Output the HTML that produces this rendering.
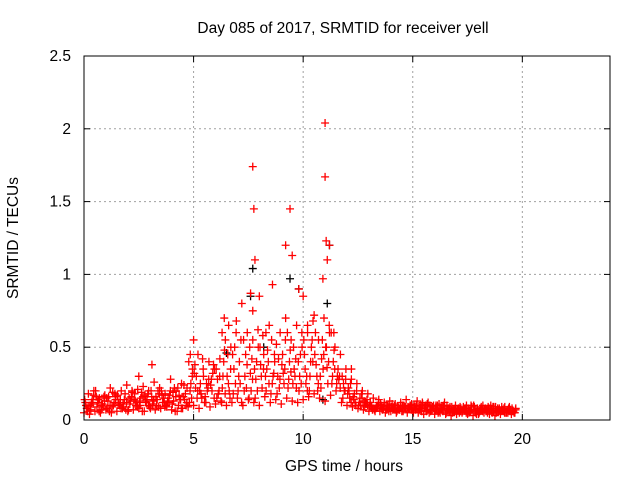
<!DOCTYPE html>
<html><head><meta charset="utf-8"><style>
html,body{margin:0;padding:0;background:#fff;}
svg text{font-family:"Liberation Sans",sans-serif;font-size:15.5px;fill:#000;}
</style></head><body>
<svg id="chart" width="640" height="480">
<rect width="640" height="480" fill="#fff"/>
<text x="343" y="33" text-anchor="middle">Day 085 of 2017, SRMTID for receiver yell</text>
<text x="18" y="238" text-anchor="middle" transform="rotate(-90 18 238)">SRMTID / TECUs</text>
<text x="344" y="471" text-anchor="middle">GPS time / hours</text>
<g id="grid"></g>
<g id="marks"></g>
<rect x="84" y="56" width="526" height="364" fill="none" stroke="#000"/>
<g id="axes"></g>
</svg>
<script>
const xTicks=[0,5,10,15,20];
const yTicks=[0,0.5,1,1.5,2,2.5];
const yTickLabels=["0","0.5","1","1.5","2","2.5"];
const times=[0,0.25,0.5,0.75,1,1.25,1.5,1.75,2,2.25,2.5,2.75,3,3.25,3.5,3.75,4,4.25,4.5,4.75,5,5.25,5.5,5.75,6,6.25,6.5,6.75,7,7.25,7.5,7.75,8,8.25,8.5,8.75,9,9.25,9.5,9.75,10,10.25,10.5,10.75,11,11.25,11.5,11.75,12,12.25,12.5,12.75,13,13.25,13.5,13.75,14,14.25,14.5,14.75,15,15.25,15.5,15.75,16,16.25,16.5,16.75,17,17.25,17.5,17.75,18,18.25,18.5,18.75,19,19.25,19.5];
const lowVals=[0.05,0.04,0.06,0.05,0.07,0.05,0.06,0.08,0.06,0.07,0.08,0.06,0.09,0.07,0.08,0.1,0.07,0.06,0.08,0.09,0.1,0.08,0.12,0.09,0.11,0.13,0.1,0.12,0.15,0.1,0.14,0.12,0.1,0.16,0.12,0.14,0.11,0.15,0.13,0.12,0.14,0.16,0.18,0.15,0.13,0.17,0.2,0.12,0.1,0.09,0.08,0.07,0.06,0.07,0.06,0.05,0.06,0.05,0.06,0.05,0.06,0.05,0.04,0.05,0.04,0.05,0.04,0.03,0.04,0.05,0.04,0.03,0.04,0.05,0.04,0.03,0.04,0.05,0.04];
const midVals=[0.1,0.12,0.09,0.11,0.13,0.1,0.12,0.14,0.11,0.13,0.15,0.12,0.16,0.14,0.12,0.15,0.13,0.17,0.14,0.2,0.22,0.18,0.25,0.2,0.28,0.3,0.25,0.35,0.4,0.3,0.32,0.28,0.3,0.35,0.25,0.3,0.32,0.28,0.35,0.3,0.35,0.4,0.38,0.42,0.36,0.3,0.35,0.25,0.2,0.18,0.15,0.12,0.1,0.09,0.08,0.09,0.07,0.08,0.1,0.08,0.09,0.08,0.1,0.07,0.08,0.09,0.07,0.06,0.08,0.07,0.06,0.07,0.08,0.06,0.07,0.06,0.07,0.05,0.06];
const highVals=[0.18,0.2,0.15,0.17,0.22,0.16,0.2,0.24,0.19,0.21,0.23,0.2,0.26,0.22,0.18,0.28,0.2,0.25,0.22,0.35,0.45,0.3,0.4,0.35,0.42,0.55,0.5,0.68,0.8,0.6,0.55,0.5,0.45,0.65,0.4,0.6,0.7,0.55,0.65,0.5,0.6,0.68,0.55,0.7,0.6,0.5,0.45,0.35,0.28,0.25,0.2,0.18,0.15,0.14,0.12,0.13,0.11,0.12,0.14,0.11,0.13,0.11,0.12,0.1,0.11,0.12,0.09,0.1,0.08,0.1,0.09,0.08,0.1,0.08,0.09,0.08,0.09,0.07,0.08];
const mid2Vals=[0.08,0.14,0.12,0.09,0.16,0.12,0.1,0.18,0.13,0.1,0.19,0.14,0.11,0.2,0.15,0.12,0.22,0.14,0.18,0.25,0.3,0.15,0.2,0.32,0.18,0.4,0.2,0.5,0.25,0.45,0.2,0.4,0.22,0.48,0.3,0.42,0.25,0.4,0.3,0.45,0.25,0.5,0.3,0.55,0.25,0.4,0.28,0.2,0.15,0.12,0.1,0.11,0.09,0.1,0.07,0.1,0.08,0.07,0.09,0.1,0.07,0.1,0.06,0.09,0.1,0.06,0.08,0.07,0.05,0.08,0.06,0.05,0.09,0.07,0.05,0.08,0.06,0.08,0.05];
const e1Vals=[0.12,0.07,0.16,0.1,0.08,0.19,0.11,0.09,0.15,0.18,0.1,0.13,0.2,0.1,0.17,0.13,0.19,0.1,0.24,0.12,0.38,0.25,0.12,0.28,0.15,0.22,0.45,0.18,0.3,0.2,0.5,0.15,0.38,0.2,0.55,0.18,0.45,0.22,0.5,0.2,0.45,0.3,0.6,0.22,0.5,0.25,0.3,0.15,0.22,0.14,0.12,0.09,0.12,0.08,0.1,0.07,0.11,0.09,0.06,0.08,0.1,0.07,0.09,0.06,0.1,0.07,0.1,0.05,0.07,0.09,0.05,0.09,0.06,0.08,0.1,0.05,0.09,0.07,0.06];
const e2Vals=[0.09,0.17,0.06,0.13,0.1,0.14,0.08,0.12,0.2,0.09,0.16,0.1,0.14,0.18,0.09,0.2,0.16,0.08,0.12,0.3,0.2,0.35,0.28,0.15,0.3,0.18,0.35,0.6,0.12,0.38,0.28,0.62,0.35,0.25,0.45,0.28,0.55,0.33,0.22,0.6,0.2,0.4,0.25,0.45,0.65,0.35,0.22,0.28,0.12,0.2,0.15,0.1,0.08,0.12,0.09,0.08,0.07,0.1,0.08,0.07,0.08,0.12,0.07,0.08,0.06,0.09,0.06,0.08,0.06,0.05,0.07,0.06,0.06,0.09,0.06,0.07,0.05,0.06,0.07];
const e3Vals=[0.14,0.1,0.2,0.07,0.15,0.09,0.17,0.11,0.07,0.14,0.12,0.17,0.08,0.16,0.2,0.09,0.11,0.22,0.16,0.4,0.32,0.2,0.16,0.24,0.35,0.12,0.3,0.45,0.2,0.55,0.15,0.35,0.5,0.3,0.18,0.52,0.38,0.6,0.25,0.4,0.55,0.2,0.45,0.3,0.5,0.6,0.25,0.3,0.18,0.16,0.1,0.13,0.1,0.06,0.11,0.1,0.09,0.06,0.1,0.09,0.05,0.09,0.08,0.1,0.07,0.08,0.05,0.09,0.07,0.06,0.08,0.1,0.05,0.07,0.08,0.09,0.06,0.05,0.08];
const e4Vals=[0.06,0.11,0.14,0.16,0.06,0.18,0.14,0.07,0.16,0.12,0.06,0.18,0.13,0.09,0.12,0.17,0.06,0.14,0.1,0.15,0.15,0.42,0.22,0.38,0.2,0.48,0.15,0.25,0.55,0.22,0.42,0.2,0.58,0.4,0.32,0.22,0.35,0.48,0.42,0.25,0.3,0.55,0.2,0.35,0.4,0.48,0.3,0.2,0.25,0.1,0.18,0.14,0.07,0.1,0.08,0.06,0.1,0.07,0.09,0.1,0.1,0.06,0.11,0.09,0.05,0.1,0.08,0.06,0.09,0.08,0.1,0.04,0.07,0.05,0.09,0.06,0.08,0.09,0.05];
const outT=[7.7,7.75,7.8,7.6,9.2,9.4,9.5,11.0,11.0,11.05,11.1,11.2,10.9,8.6,9.8,7.7,6.4,6.6,5.0,4.85,3.1,2.5,8.0,8.3,10.5,10.0,11.4,12.2,6.3,10.2];
const outV=[1.74,1.45,1.1,0.87,1.2,1.45,1.13,2.04,1.67,1.23,1.1,1.2,0.97,0.93,0.9,0.75,0.7,0.65,0.55,0.45,0.38,0.3,0.85,0.6,0.72,0.85,0.6,0.35,0.6,0.65];
const blackT=[7.7,7.6,9.4,11.2,9.8,11.1,6.5,8.2,10.9];
const blackV=[1.04,0.85,0.97,1.2,0.9,0.8,0.46,0.5,0.14];

const X=t=>84+t*(526/24);
const Y=v=>420-v*(364/2.5);
const NS="http://www.w3.org/2000/svg";
const grid=document.getElementById('grid'),axes=document.getElementById('axes'),marks=document.getElementById('marks');
function mk(tag,attrs,parent){const e=document.createElementNS(NS,tag);for(const k in attrs)e.setAttribute(k,attrs[k]);parent.appendChild(e);return e;}
xTicks.forEach(t=>{
  const x=X(t);
  if(t>0){const g=mk('line',{x1:x,x2:x,y1:56,y2:420,stroke:'#a0a0a0','stroke-dasharray':'2,3'},grid);
  
  }
  mk('line',{x1:x,x2:x,y1:420,y2:414,stroke:'#000'},axes);
  mk('line',{x1:x,x2:x,y1:56,y2:62,stroke:'#000'},axes);
  const l=mk('text',{x:x,y:444,'text-anchor':'middle'},axes);l.textContent=t;
  
  
});
yTicks.forEach((v,i)=>{
  const y=Y(v);
  if(v>0&&v<2.5){const g=mk('line',{x1:84,x2:610,y1:y,y2:y,stroke:'#a0a0a0','stroke-dasharray':'2,3'},grid);
  
  }
  mk('line',{x1:84,x2:90,y1:y,y2:y,stroke:'#000'},axes);
  mk('line',{x1:604,x2:610,y1:y,y2:y,stroke:'#000'},axes);
  const l=mk('text',{x:71,y:y+5,'text-anchor':'end'},axes);l.textContent=yTickLabels[i];
  
  
});
function plus(t,v,color){
  const x=X(t),y=Y(v);
  const p=mk('path',{d:`M${x-4},${y}H${x+4}M${x},${y-4}V${y+4}`,stroke:color,'stroke-width':1.3,fill:'none'},marks);
  
  
}
blackT.forEach((t,i)=>plus(t,blackV[i],'#000'));
const seriesList=[[lowVals,0],[midVals,0.09],[highVals,0.2],[mid2Vals,0.125],[e1Vals,0.06],[e2Vals,0.19],[e3Vals,0.03],[e4Vals,0.16]];
seriesList.forEach(([arr,off])=>times.forEach((t,i)=>plus(t+off,arr[i],'#f00')));
outT.forEach((t,i)=>plus(t,outV[i],'#f00'));
</script>
</body></html>
